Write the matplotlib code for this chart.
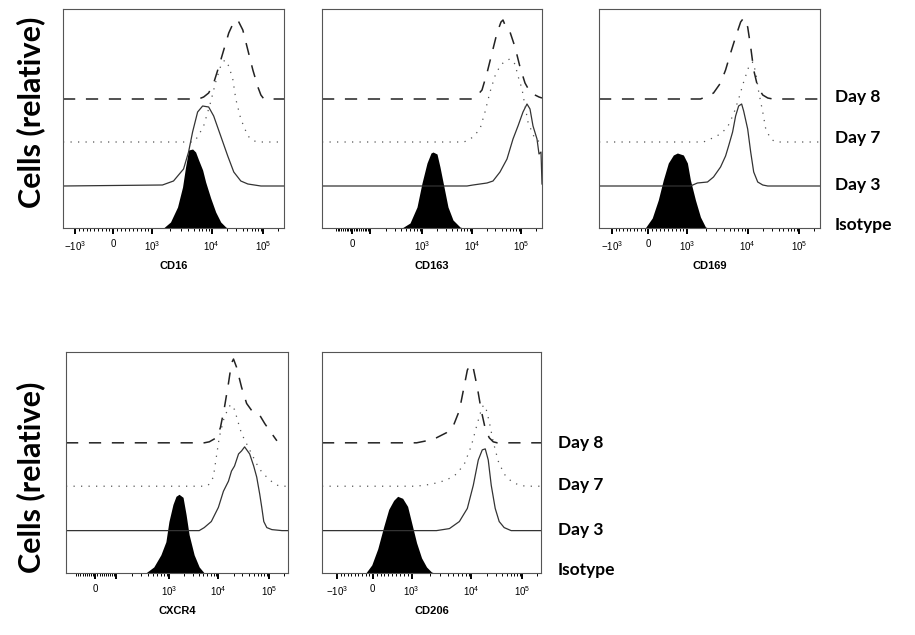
import matplotlib
matplotlib.use("Agg")
import matplotlib.pyplot as plt
import numpy as np

plt.rcParams['font.family'] = ['Liberation Sans', 'DejaVu Sans']
plt.rcParams['mathtext.default'] = 'regular'

W, H = 915, 635

markers = ["CD16", "CD163", "CD169", "CXCR4", "CD206"]
day_labels = ["Day 8", "Day 7", "Day 3", "Isotype"]
# vertical offset of each histogram (isotype, day 3, day 7, day 8)
offsets = [0, 42, 86, 129]

# (value, display channel) of the major ticks of each x axis
cd16_ticks = [(-1e3, 12), (0, 50), (1e3, 89), (1e4, 148), (1e5, 199)]
cd163_ticks = [(0, 30), (1e2, 48), (1e3, 100), (1e4, 150), (1e5, 199)]
cd169_ticks = [(-1e3, 13), (0, 49), (1e3, 88), (1e4, 148), (1e5, 199)]
cxcr4_ticks = [(0, 29), (1e2, 50), (1e3, 102), (1e4, 151), (1e5, 201)]
cd206_ticks = [(-1e3, 15), (0, 51), (1e3, 90), (1e4, 150), (1e5, 201)]

# histograms: (display channel, cells)
cd16_iso = [(100, 0), (107, 6), (114, 21), (119, 41), (122, 61), (125, 78), (129, 79),
            (132, 76), (135, 68), (139, 58), (142, 46), (147, 30), (152, 16), (157, 6),
            (162, 1), (164, 0)]
cd16_d3 = [(0, 0), (99, 1), (110, 5), (120, 17), (125, 34), (129, 54), (134, 74), (139, 80),
           (145, 79), (150, 70), (157, 50), (164, 30), (170, 14), (177, 5), (184, 2),
           (197, 0), (220, 0)]
cd16_d7 = [(0, 0), (130, 0), (134, 5), (140, 16), (147, 40), (152, 60), (157, 76), (161, 82),
           (165, 76), (169, 63), (172, 43), (177, 23), (184, 6), (190, 1), (197, 0), (220, 0)]
cd16_d8 = [(0, 0), (135, 0), (140, 2), (145, 6), (150, 16), (155, 32), (160, 49), (165, 66),
           (170, 77), (174, 79), (179, 69), (184, 49), (189, 29), (194, 12), (197, 4),
           (200, 0), (220, 0)]

cd163_iso = [(80, 0), (88, 5), (95, 21), (100, 45), (105, 65), (109, 75), (111, 76), (115, 74),
             (118, 61), (122, 41), (126, 21), (131, 8), (138, 1), (141, 0)]
cd163_d3 = [(0, 0), (145, 0), (151, 1), (165, 3), (171, 5), (178, 14), (185, 27), (191, 47),
            (196, 60), (201, 74), (205, 82), (208, 77), (211, 60), (215, 47), (217, 32),
            (219, 34), (220, 2)]
cd163_d7 = [(0, 0), (141, 0), (145, 1), (151, 5), (158, 13), (163, 30), (168, 50), (173, 66),
            (178, 76), (183, 81), (188, 83), (193, 78), (196, 66), (200, 53), (203, 36),
            (206, 20), (210, 10), (213, 3), (218, 0), (220, 0)]
cd163_d8 = [(0, 0), (150, 0), (153, 1), (160, 9), (165, 26), (170, 46), (175, 66), (179, 77),
            (181, 79), (185, 69), (188, 67), (193, 52), (198, 32), (203, 16), (208, 7),
            (213, 4), (217, 2), (220, 1)]

cd169_iso = [(46, 0), (53, 10), (59, 28), (64, 48), (69, 65), (74, 73), (78, 75), (84, 73),
             (88, 65), (91, 48), (96, 28), (101, 11), (106, 1), (109, 0)]
cd169_d3 = [(0, 0), (91, 0), (98, 3), (108, 4), (114, 9), (121, 19), (126, 30), (129, 40),
            (133, 54), (136, 70), (139, 80), (142, 82), (144, 75), (148, 57), (151, 34),
            (154, 14), (158, 4), (163, 1), (168, 0), (220, 0)]
cd169_d7 = [(0, 0), (104, 0), (111, 3), (121, 8), (128, 15), (134, 28), (139, 43), (144, 60),
            (149, 75), (153, 80), (156, 70), (159, 50), (163, 30), (166, 13), (171, 3),
            (176, 0), (220, 0)]
cd169_d8 = [(0, 0), (101, 0), (106, 2), (114, 6), (121, 16), (126, 29), (131, 46), (136, 62),
            (141, 77), (144, 81), (148, 72), (151, 52), (154, 29), (158, 12), (163, 4),
            (168, 1), (173, 0), (220, 0)]

cxcr4_iso = [(79, 0), (87, 6), (94, 18), (99, 31), (102, 51), (106, 68), (109, 76), (112, 78),
             (116, 75), (119, 58), (122, 38), (127, 18), (132, 6), (137, 0)]
cxcr4_d3 = [(0, 0), (132, 0), (137, 3), (144, 9), (151, 23), (156, 39), (161, 49), (164, 59),
            (167, 64), (171, 76), (174, 79), (177, 83), (182, 76), (186, 64), (189, 53),
            (192, 36), (194, 23), (196, 9), (199, 3), (204, 1), (214, 0), (220, 0)]
cxcr4_d7 = [(0, 0), (139, 0), (142, 2), (146, 9), (149, 29), (152, 49), (157, 69), (161, 77),
            (163, 81), (167, 76), (171, 62), (174, 52), (179, 42), (184, 32), (189, 22),
            (194, 14), (201, 7), (207, 2), (212, 0), (220, 0)]
cxcr4_d8 = [(0, 0), (137, 0), (142, 1), (149, 5), (153, 15), (157, 35), (161, 59), (164, 79),
            (166, 83), (169, 75), (174, 55), (179, 39), (184, 32), (191, 29), (197, 19),
            (204, 9), (209, 2)]

cd206_iso = [(44, 0), (50, 8), (56, 24), (62, 46), (67, 63), (72, 72), (76, 76), (81, 74),
             (86, 66), (90, 50), (95, 30), (100, 15), (105, 6), (110, 1), (113, 0)]
cd206_d3 = [(0, 0), (115, 0), (128, 2), (138, 9), (146, 22), (152, 45), (157, 70), (161, 80),
            (164, 81), (167, 70), (170, 45), (174, 22), (178, 9), (183, 3), (190, 0), (220, 0)]
cd206_d7 = [(0, 0), (95, 0), (110, 2), (125, 6), (135, 12), (143, 22), (150, 40), (156, 62),
            (161, 79), (164, 80), (168, 64), (172, 44), (177, 25), (183, 12), (190, 5),
            (198, 1), (205, 0), (220, 0)]
cd206_d8 = [(0, 0), (95, 0), (105, 2), (115, 5), (125, 10), (132, 17), (138, 32), (142, 52),
            (146, 72), (149, 78), (152, 74), (156, 55), (160, 32), (164, 14), (168, 5),
            (172, 1), (176, 0), (220, 0)]

ticks = [cd16_ticks, cd163_ticks, cd169_ticks, cxcr4_ticks, cd206_ticks]
hists = [
    [cd16_iso, cd16_d3, cd16_d7, cd16_d8],
    [cd163_iso, cd163_d3, cd163_d7, cd163_d8],
    [cd169_iso, cd169_d3, cd169_d7, cd169_d8],
    [cxcr4_iso, cxcr4_d3, cxcr4_d7, cxcr4_d8],
    [cd206_iso, cd206_d3, cd206_d7, cd206_d8],
]

# axes boxes in pixels: left, top, width, height
boxes = [(63, 9, 221, 219), (322, 9, 220, 219), (599, 9, 221, 219),
         (66, 352, 222, 221), (322, 352, 219, 221)]


def tick_label(v):
    if v == 0:
        return "0"
    k = int(round(np.log10(abs(v))))
    if k < 3:
        return ""
    sign = "-" if v < 0 else ""
    return r"$%s10^{%d}$" % (sign, k)


def minor_ticks(tk):
    vals = [v for v, p in tk]
    pos = dict(tk)
    out = []
    p0 = pos[0]
    lin = min(v for v in vals if v > 0)
    for i in range(1, 10):
        out.append(p0 + (pos[lin] - p0) * i / 10)
        neg = p0 - (pos[lin] - p0) * i / 10
        if -lin not in pos and neg > 2:
            out.append(neg)
    if -lin in pos:
        for i in range(1, 10):
            out.append(p0 - (p0 - pos[-lin]) * i / 10)
    pos_dec = sorted(v for v in vals if v > 0)
    for a, b in zip(pos_dec[:-1], pos_dec[1:]):
        for m in range(2, 10):
            out.append(pos[a] + (pos[b] - pos[a]) * np.log10(m))
    last, prev = pos_dec[-1], pos_dec[-2]
    out.append(pos[last] + (pos[last] - pos[prev]) * np.log10(2))
    return out


fig = plt.figure(figsize=(W / 100, H / 100), dpi=100)

for name, tk, hs, (l, t, w, h) in zip(markers, ticks, hists, boxes):
    ax = fig.add_axes([l / W, 1 - (t + h) / H, w / W, h / H])
    iso, d3, d7, d8 = [np.array(s, dtype=float) for s in hs]
    ax.fill_between(iso[:, 0], 0, iso[:, 1], color="black", lw=0)
    ax.plot(d3[:, 0], d3[:, 1] + offsets[1], color="#333333", lw=0.9)
    ax.plot(d7[:, 0], d7[:, 1] + offsets[2], color="#555555", lw=0.9,
            linestyle=(0, (1, 5)))
    ax.plot(d8[:, 0], d8[:, 1] + offsets[3], color="#222222", lw=1.1,
            linestyle=(0, (8, 7)))
    ax.set_xlim(0, 220)
    ax.set_ylim(0, 219)
    ax.set_yticks([])
    ax.set_xticks([p for v, p in tk])
    ax.set_xticklabels([tick_label(v) for v, p in tk], fontsize=7)
    ax.set_xticks(minor_ticks(tk), minor=True)
    ax.tick_params(axis="x", which="major", direction="out", length=4, width=1.4,
                   pad=4, color="black")
    ax.tick_params(axis="x", which="minor", direction="out", length=2.4, width=0.7,
                   color="black")
    for sp in ax.spines.values():
        sp.set_color("#555555")
        sp.set_linewidth(0.8)
    ax.set_xlabel(name, fontsize=8, fontweight="bold", labelpad=6)

# row annotations
for x0, ys in [(835, [97, 138, 185, 225]), (558, [443, 485, 530, 570])]:
    for lab, yy in zip(day_labels, ys):
        fig.text(x0 / W, 1 - yy / H, lab, fontsize=12.5, fontweight="bold",
                 family="Lato", ha="left", va="center")

for yc in [112, 477]:
    fig.text(31 / W, 1 - yc / H, "Cells (relative)", rotation=90, fontsize=22,
             fontweight="bold", family="Lato", ha="center", va="center")

fig.savefig("out.png", dpi=100)
